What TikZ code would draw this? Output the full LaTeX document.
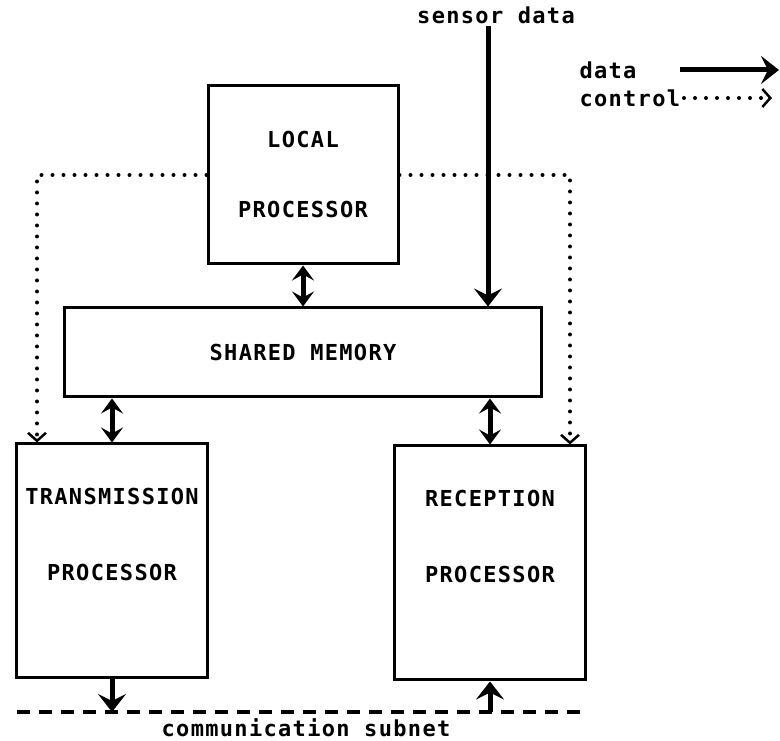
\documentclass[tikz,border=0pt]{standalone}
\usepackage{fontspec}
\usepackage{tikz}
\usetikzlibrary{arrows.meta, positioning}
\newfontfamily\plotfont[LetterSpace=6]{DejaVu Sans Mono}

\begin{document}
\begin{tikzpicture}[
                x = 1pt, y = 1pt, % one unit per pixel
                > = {Stealth[length=18pt, width=28pt, inset=7pt]}, % arrow head style
                line width=3pt, % line style
                font=\plotfont\bfseries\fontsize{22}{70}\selectfont
                ]
                \tikzstyle{unit}=[
                    draw,
                    line width=3pt,
                    align=center,
                    inner sep=0pt,
                ]
                \tikzstyle{dataflow}=[-{Stealth[length=18pt, width=28pt, inset=7pt]}, line width=5pt]
                \tikzstyle{dualflow}=[{Stealth[length=15pt, width=22pt, inset=6pt]}-{Stealth[length=15pt, width=22pt, inset=6pt]},
                    line width=5pt]
                \tikzstyle{ctrlflow}=[-{Straight Barb[length=8pt, width=18pt, line width=2.5pt]},
                    line width=4pt, line cap=round, dash pattern=on 0pt off 11pt]
                \tikzstyle{netline}=[line width=3.5pt, dash pattern=on 13pt off 9pt]

                \useasboundingbox (0,0) rectangle (780,741);

                \node[unit, minimum width=190pt, minimum height=178pt] (local) at (303,566) {LOCAL\\PROCESSOR};
                \node[unit, minimum width=477pt, minimum height=89pt] (shared) [below=41pt of local] {SHARED MEMORY};
                \node[unit, minimum width=191pt, minimum height=234pt, text depth=54pt] (trans)
                    [below right=44pt and -48pt of shared.south west] {TRANSMISSION\\[6pt]PROCESSOR};
                \node[unit, minimum width=191pt, minimum height=234pt, text depth=54pt] (recv)
                    [below left=46pt and -44pt of shared.south east] {RECEPTION\\[6pt]PROCESSOR};

                \node (sensor) at (496,726) {sensor data};
                \node[anchor=west, inner sep=0pt] (datalbl) at (578,671) {data};
                \node[anchor=west, inner sep=0pt] (ctrllbl) at (578,643) {control};
                \node (netlbl) at (306,13) {communication subnet};

                \coordinate (sensorin) at (488,715);
                \coordinate (netL) at (17,29);
                \coordinate (netR) at (585,29);

                % legend
                \draw[dataflow] (datalbl.east -| 680,0) -- (779,671);
                \draw[ctrlflow] (ctrllbl.east -| 684,0) -- (772,643);

                % data paths
                \draw[dataflow] (sensorin) -- (sensorin |- shared.north);
                \draw[dualflow] (local.south) -- (local.south |- shared.north);
                \draw[dualflow] (trans.north |- shared.south) -- (trans.north);
                \draw[dualflow] (recv.north |- shared.south) -- (recv.north);

                % control paths
                \draw[ctrlflow] (local.west) -| ([xshift=22pt]trans.north west);
                \draw[ctrlflow] (local.east) -| ([xshift=-17pt]recv.north east);

                % subnet
                \draw[netline] (netL) -- (netR);
                \draw[dataflow] (trans.south) -- (trans.south |- netL);
                \draw[dataflow] (recv.south |- netL) -- (recv.south);
            \end{tikzpicture}
\end{document}
